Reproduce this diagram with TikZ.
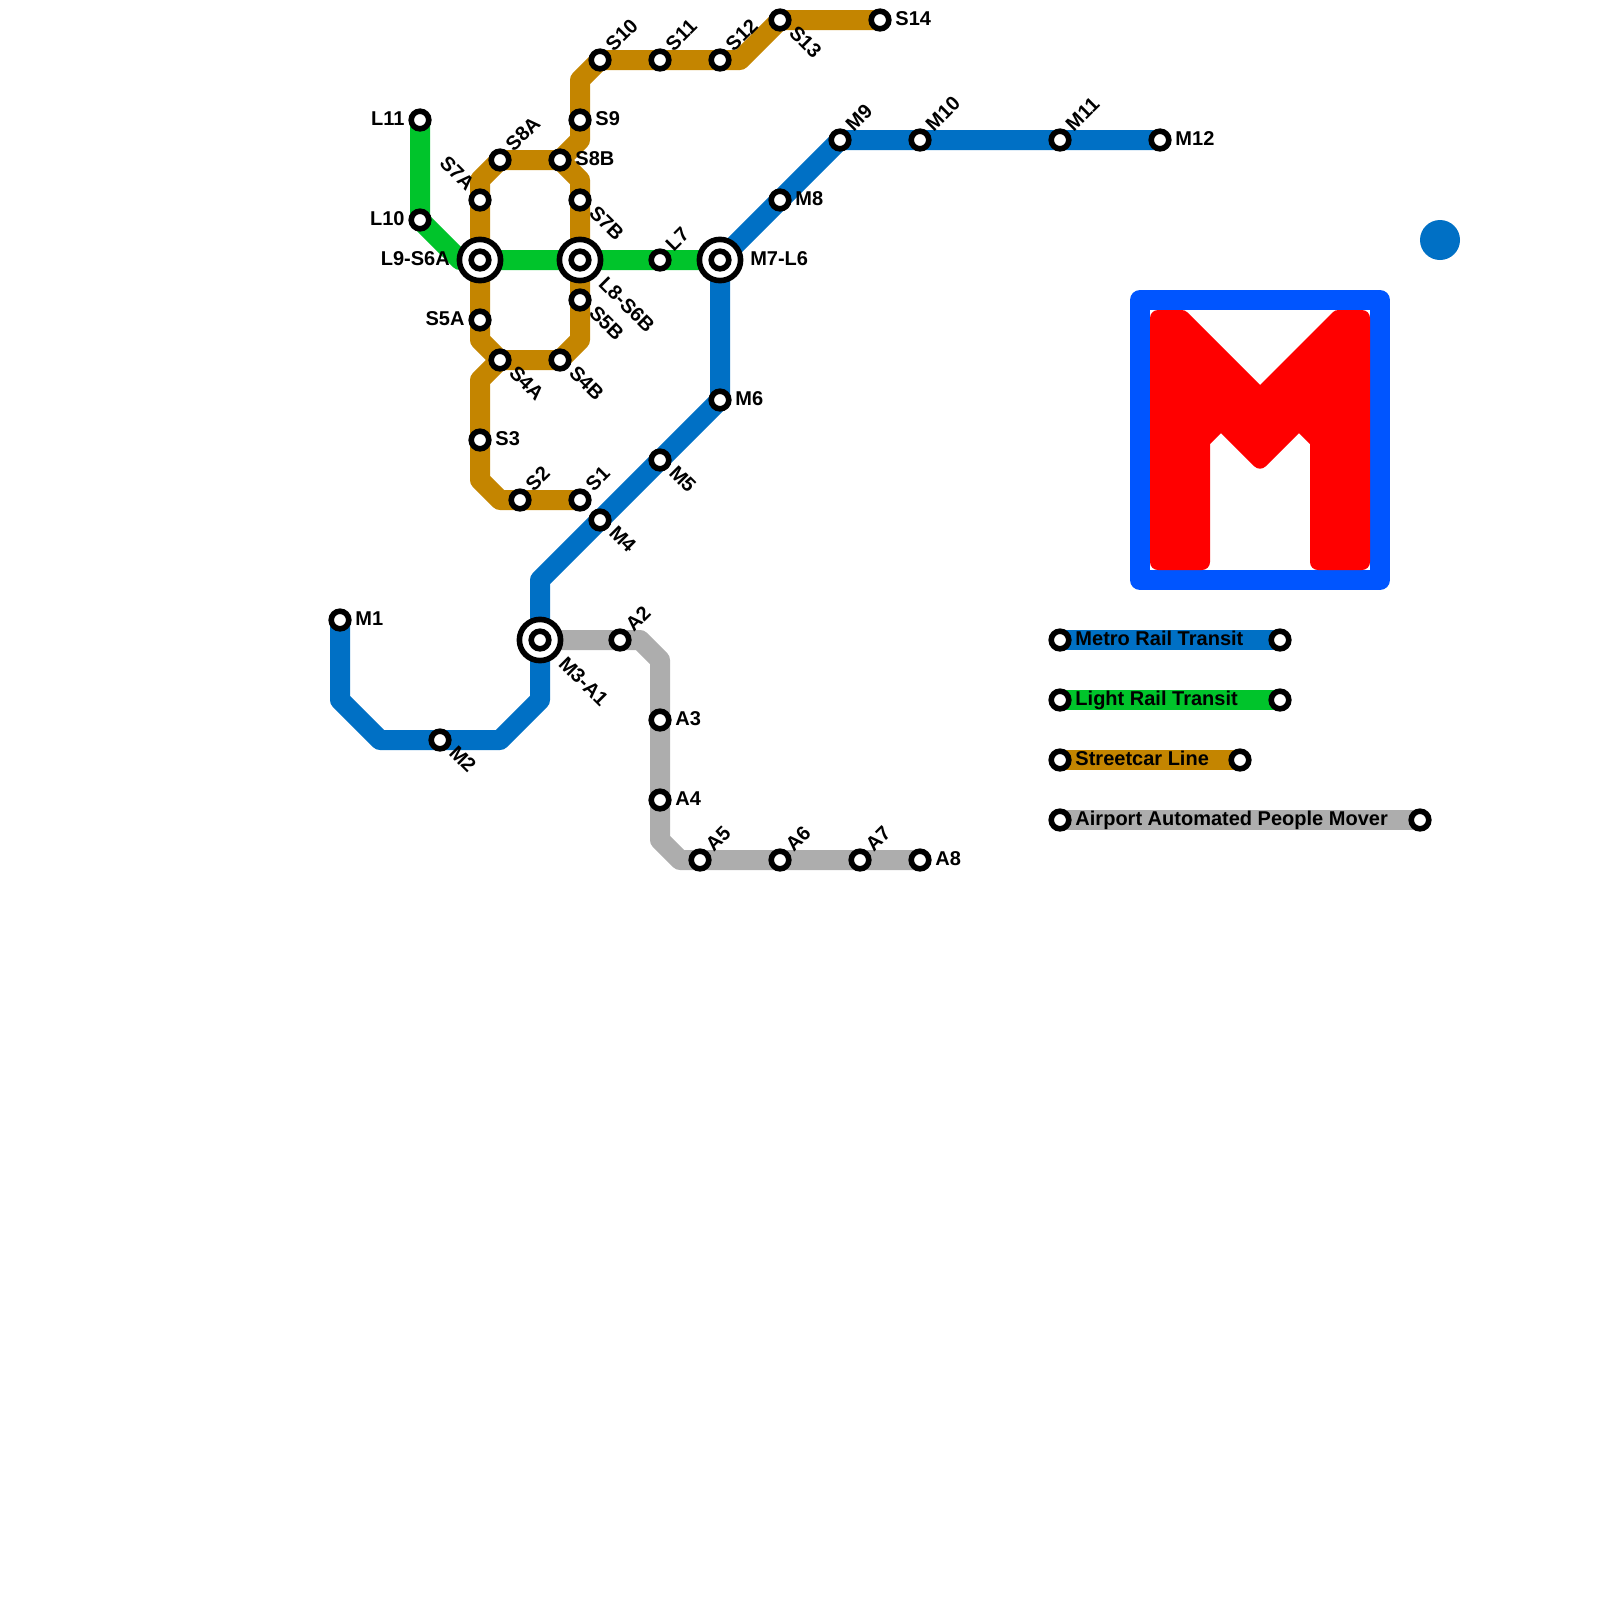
\documentclass[tikz,border=0pt]{standalone}
\usepackage{fontspec}
\setmainfont{Liberation Sans}
\usepackage{xcolor}
\usetikzlibrary{backgrounds}
\definecolor{metroblue}{HTML}{0070C5}
\definecolor{lrtgreen}{HTML}{00C42B}
\definecolor{carorange}{HTML}{C48500}
\definecolor{apmgrey}{HTML}{ADADAD}
\definecolor{framebl}{HTML}{0055FF}

\begin{document}
\begin{tikzpicture}[
  x=0.5cm, y=-0.5cm,
  stn/.style={circle, draw=black, fill=white, line width=0.14cm, minimum size=0.44cm, inner sep=0pt, outer sep=0pt},
  hub/.style={stn, minimum size=1.03cm},
  rail/.style={line width=0.5cm, line join=round, line cap=round},
  lbl/.style={font=\fontsize{14.23}{16}\selectfont\bfseries, inner sep=0pt, text height=10pt, text depth=0pt},
  lblE/.style={lbl, anchor=west, xshift=0.38cm, yshift=0.04cm},
  lblW/.style={lbl, anchor=east, xshift=-0.38cm, yshift=0.04cm},
  lblNE/.style={lbl, xshift=0.22cm, yshift=0.31cm, rotate=45, anchor=west},
  lblSE/.style={lbl, xshift=0.32cm, yshift=-0.225cm, rotate=-45, anchor=west},
  lblNW/.style={lbl, xshift=-0.22cm, yshift=0.33cm, rotate=-45, anchor=east},
  hubSE/.style={lbl, xshift=0.56cm, yshift=-0.5cm, rotate=-45, anchor=west},
]
  \useasboundingbox (0,0) rectangle (80,80);

  % metro stations
  \node[stn] (M1) at (17,31) {};        \node[lblE] (M1t) at (M1) {M1};
  \node[stn] (M2) at (22,37) {};        \node[lblSE] (M2t) at (M2) {M2};
  \node[hub] (M3A1) at (27,32) {};      \node[stn] (M3A1i) at (M3A1) {};
  \node[hubSE] (M3A1t) at (M3A1) {M3-A1};
  \node[stn] (M4) at (30,26) {};        \node[lblSE] (M4t) at (M4) {M4};
  \node[stn] (M5) at (33,23) {};        \node[lblSE] (M5t) at (M5) {M5};
  \node[stn] (M6) at (36,20) {};        \node[lblE] (M6t) at (M6) {M6};
  \node[hub] (M7L6) at (36,13) {};      \node[stn] (M7L6i) at (M7L6) {};
  \node[lblE, xshift=0.37cm] (M7L6t) at (M7L6) {M7-L6};
  \node[stn] (M8) at (39,10) {};        \node[lblE] (M8t) at (M8) {M8};
  \node[stn] (M9) at (42,7) {};         \node[lblNE] (M9t) at (M9) {M9};
  \node[stn] (M10) at (46,7) {};        \node[lblNE] (M10t) at (M10) {M10};
  \node[stn] (M11) at (53,7) {};        \node[lblNE] (M11t) at (M11) {M11};
  \node[stn] (M12) at (58,7) {};        \node[lblE] (M12t) at (M12) {M12};

  % light rail stations
  \node[stn] (L7) at (33,13) {};        \node[lblNE] (L7t) at (L7) {L7};
  \node[hub] (L8S6B) at (29,13) {};     \node[stn] (L8S6Bi) at (L8S6B) {};
  \node[hubSE] (L8S6Bt) at (L8S6B) {L8-S6B};
  \node[hub] (L9S6A) at (24,13) {};     \node[stn] (L9S6Ai) at (L9S6A) {};
  \node[lblW, xshift=-0.37cm] (L9S6At) at (L9S6A) {L9-S6A};
  \node[stn] (L10) at (21,11) {};       \node[lblW] (L10t) at (L10) {L10};
  \node[stn] (L11) at (21,6) {};        \node[lblW] (L11t) at (L11) {L11};

  % streetcar stations
  \node[stn] (S1) at (29,25) {};        \node[lblNE] (S1t) at (S1) {S1};
  \node[stn] (S2) at (26,25) {};        \node[lblNE] (S2t) at (S2) {S2};
  \node[stn] (S3) at (24,22) {};        \node[lblE] (S3t) at (S3) {S3};
  \node[stn] (S4A) at (25,18) {};       \node[lblSE] (S4At) at (S4A) {S4A};
  \node[stn] (S4B) at (28,18) {};       \node[lblSE] (S4Bt) at (S4B) {S4B};
  \node[stn] (S5A) at (24,16) {};       \node[lblW] (S5At) at (S5A) {S5A};
  \node[stn] (S5B) at (29,15) {};       \node[lblSE] (S5Bt) at (S5B) {S5B};
  \node[stn] (S7A) at (24,10) {};       \node[lblNW] (S7At) at (S7A) {S7A};
  \node[stn] (S7B) at (29,10) {};       \node[lblSE] (S7Bt) at (S7B) {S7B};
  \node[stn] (S8A) at (25,8) {};        \node[lblNE] (S8At) at (S8A) {S8A};
  \node[stn] (S8B) at (28,8) {};        \node[lblE] (S8Bt) at (S8B) {S8B};
  \node[stn] (S9) at (29,6) {};         \node[lblE] (S9t) at (S9) {S9};
  \node[stn] (S10) at (30,3) {};        \node[lblNE] (S10t) at (S10) {S10};
  \node[stn] (S11) at (33,3) {};        \node[lblNE] (S11t) at (S11) {S11};
  \node[stn] (S12) at (36,3) {};        \node[lblNE] (S12t) at (S12) {S12};
  \node[stn] (S13) at (39,1) {};        \node[lblSE] (S13t) at (S13) {S13};
  \node[stn] (S14) at (44,1) {};        \node[lblE] (S14t) at (S14) {S14};

  % airport stations
  \node[stn] (A2) at (31,32) {};        \node[lblNE] (A2t) at (A2) {A2};
  \node[stn] (A3) at (33,36) {};        \node[lblE] (A3t) at (A3) {A3};
  \node[stn] (A4) at (33,40) {};        \node[lblE] (A4t) at (A4) {A4};
  \node[stn] (A5) at (35,43) {};        \node[lblNE] (A5t) at (A5) {A5};
  \node[stn] (A6) at (39,43) {};        \node[lblNE] (A6t) at (A6) {A6};
  \node[stn] (A7) at (43,43) {};        \node[lblNE] (A7t) at (A7) {A7};
  \node[stn] (A8) at (46,43) {};        \node[lblE] (A8t) at (A8) {A8};

  % legend
  \node[stn] (KMa) at (53,32) {};       \node[stn] (KMb) at (64,32) {};
  \node[stn] (KLa) at (53,35) {};       \node[stn] (KLb) at (64,35) {};
  \node[stn] (KSa) at (53,38) {};       \node[stn] (KSb) at (62,38) {};
  \node[stn] (KAa) at (53,41) {};       \node[stn] (KAb) at (71,41) {};
  \node[lblE] (KMt) at (KMa) {Metro Rail Transit};
  \node[lblE] (KLt) at (KLa) {Light Rail Transit};
  \node[lblE] (KSt) at (KSa) {Streetcar Line};
  \node[lblE] (KAt) at (KAa) {Airport Automated People Mover};

  \node[circle, fill=metroblue, minimum size=1cm, inner sep=0pt] (dot) at (72,12) {};

  % bends
  \coordinate (b1) at (17,35);  \coordinate (b2) at (19,37);
  \coordinate (b3) at (25,37);  \coordinate (b4) at (27,35);
  \coordinate (b5) at (27,29);
  \coordinate (g1) at (23,13);
  \coordinate (c1) at (37,3);   \coordinate (c2) at (29,4);
  \coordinate (c3) at (29,7);   \coordinate (c4) at (24,9);
  \coordinate (c5) at (24,17);  \coordinate (c6) at (29,17);
  \coordinate (c7) at (29,9);   \coordinate (c8) at (24,19);
  \coordinate (c9) at (24,24);  \coordinate (c10) at (25,25);
  \coordinate (a1) at (32,32);  \coordinate (a2) at (33,33);
  \coordinate (a3) at (33,42);  \coordinate (a4) at (34,43);

  \begin{scope}[on background layer]
    \draw[rail, carorange] (S14.center) -- (S13.center) -- (c1) -- (S10.center) -- (c2) -- (c3) -- (S8B.center) -- (S8A.center) -- (c4) -- (c5) -- (S4A.center) -- (S4B.center) -- (c6) -- (c7) -- (S8B.center);
    \draw[rail, carorange] (S4A.center) -- (c8) -- (c9) -- (c10) -- (S1.center);
    \draw[rail, apmgrey] (M3A1.center) -- (a1) -- (a2) -- (a3) -- (a4) -- (A8.center);
    \draw[rail, lrtgreen] (L11.center) -- (L10.center) -- (g1) -- (M7L6.center);
    \draw[rail, metroblue] (M1.center) -- (b1) -- (b2) -- (b3) -- (b4) -- (b5) -- (M6.center) -- (M7L6.center) -- (M9.center) -- (M12.center);
    \draw[rail, metroblue] (KMa.center) -- (KMb.center);
    \draw[rail, lrtgreen] (KLa.center) -- (KLb.center);
    \draw[rail, carorange] (KSa.center) -- (KSb.center);
    \draw[rail, apmgrey] (KAa.center) -- (KAb.center);
  \end{scope}

  % logo
  \draw[line width=0.5cm, line join=round, framebl] (57,15) rectangle (69,29);
  \draw[line width=0.4cm, line join=round, red, fill=red]
    (57.9,15.9) -- (59.085,15.9) -- (63,19.815) -- (66.915,15.9) -- (68.1,15.9) -- (68.1,28.1)
    -- (65.9,28.1) -- (65.9,22.035) -- (64.95,21.085) -- (63,23.035) -- (61.05,21.085)
    -- (60.1,22.035) -- (60.1,28.1) -- (57.9,28.1) -- cycle;
\end{tikzpicture}
\end{document}
